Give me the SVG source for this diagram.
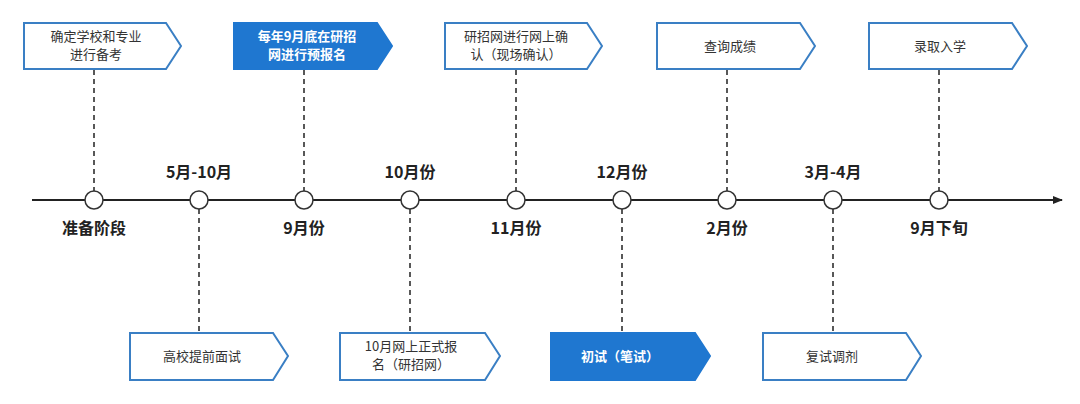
<svg xmlns="http://www.w3.org/2000/svg" width="1080" height="404" viewBox="0 0 1080 404">
<style>
.b{fill:#fff;stroke:#3a7fc4;stroke-width:2}
.bf{fill:#1f77d0;stroke:#1f77d0;stroke-width:2}
.t{font-family:"Noto Sans CJK SC",sans-serif;font-size:13px;fill:#333;text-anchor:middle}
.tw{font-family:"Noto Sans CJK SC",sans-serif;font-size:13px;fill:#fff;font-weight:bold;text-anchor:middle}
.l{font-family:"Noto Sans CJK SC",sans-serif;font-size:16px;fill:#222;font-weight:bold;text-anchor:middle}
.d{stroke:#222;stroke-width:1.5;stroke-dasharray:5,4;fill:none}
.c{fill:#fff;stroke:#333;stroke-width:1.5}
</style>
<defs><marker id="ar" markerWidth="10" markerHeight="8" refX="9" refY="4" orient="auto" markerUnits="userSpaceOnUse"><path d="M0,0L10,4L0,8z" fill="#222"/></marker></defs>
<g id="connectors">
<line x1="32" y1="200" x2="1062" y2="200" stroke="#222" stroke-width="2" marker-end="url(#ar)"/>
<path class="d" d="M94,70V191M304,70V191M516,70V191M727,70V191M939,70V191M199,209V331M410,209V331M622,209V331M833,209V331"/>
</g>
<g id="circles">
<circle class="c" cx="94" cy="200" r="9"/><circle class="c" cx="199" cy="200" r="9"/><circle class="c" cx="304" cy="200" r="9"/><circle class="c" cx="410" cy="200" r="9"/><circle class="c" cx="516" cy="200" r="9"/><circle class="c" cx="622" cy="200" r="9"/><circle class="c" cx="727" cy="200" r="9"/><circle class="c" cx="833" cy="200" r="9"/><circle class="c" cx="939" cy="200" r="9"/>
</g>
<g id="labels">
<text class="l" x="199" y="178">5月-10月</text><text class="l" x="410" y="178">10月份</text><text class="l" x="622" y="178">12月份</text><text class="l" x="833" y="178">3月-4月</text>
<text class="l" x="94" y="234">准备阶段</text><text class="l" x="304" y="234">9月份</text><text class="l" x="516" y="234">11月份</text><text class="l" x="727" y="234">2月份</text><text class="l" x="939" y="234">9月下旬</text>
</g>
<g id="n1"><path class="b" d="M24,23H166L181,46L166,69H24Z"/><text class="t" x="96" y="41">确定学校和专业</text><text class="t" x="96" y="59">进行备考</text></g>
<g id="n2"><path class="bf" d="M234,23H377L392,46L377,69H234Z"/><text class="tw" x="307" y="41">每年9月底在研招</text><text class="tw" x="307" y="59">网进行预报名</text></g>
<g id="n3"><path class="b" d="M445,23H587L602,46L587,69H445Z"/><text class="t" x="516" y="41">研招网进行网上确</text><text class="t" x="516" y="59">认（现场确认）</text></g>
<g id="n4"><path class="b" d="M657,23H800L815,46L800,69H657Z"/><text class="t" x="730" y="51">查询成绩</text></g>
<g id="n5"><path class="b" d="M869,23H1012L1027,46L1012,69H869Z"/><text class="t" x="940" y="51">录取入学</text></g>
<g id="n6"><path class="b" d="M130,333H273L288,356L273,380H130Z"/><text class="t" x="202" y="361">高校提前面试</text></g>
<g id="n7"><path class="b" d="M340,333H485L500,356L485,380H340Z"/><text class="t" x="411" y="351">10月网上正式报</text><text class="t" x="411" y="369">名（研招网）</text></g>
<g id="n8"><path class="bf" d="M551,333H695L710,356L695,380H551Z"/><text class="tw" x="620" y="361">初试（笔试）</text></g>
<g id="n9"><path class="b" d="M763,333H906L921,356L906,380H763Z"/><text class="t" x="832" y="361">复试调剂</text></g>
</svg>
